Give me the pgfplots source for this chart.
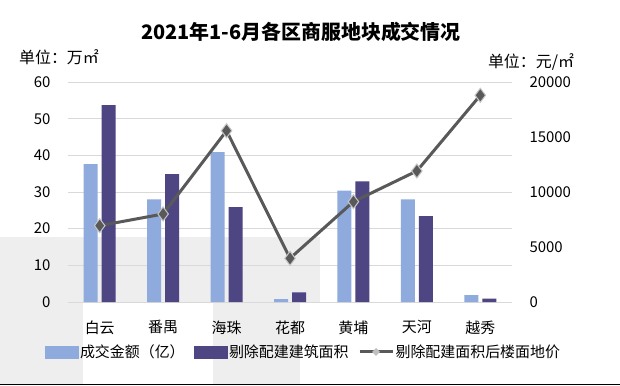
\documentclass[border=0pt]{standalone}
\usepackage{fontspec}
\setmainfont{Noto Sans CJK SC}
\usepackage{pgfplots}
\pgfplotsset{compat=1.18}
\definecolor{lb}{HTML}{8FAADC}
\definecolor{db}{HTML}{4E4583}
\definecolor{ln}{HTML}{595959}
\definecolor{gr}{HTML}{D9D9D9}
\definecolor{bg}{HTML}{EEEEEE}
\begin{document}
\begin{tikzpicture}[x=1bp,y=1bp]
\path[use as bounding box, fill=white] (0,0) rectangle (620,385);
% faint background blocks
\fill[bg] (0,83) rectangle (320,148);
\fill[bg] (0,0) rectangle (83,83);
\fill[bg] (213,0) rectangle (300,83);
\draw[black, line width=1.5bp] (0,0.75) -- (620,0.75);
\begin{axis}[
  at={(68bp,83bp)}, anchor=south west,
  scale only axis, width=444bp, height=220bp,
  xmin=-0.5, xmax=6.5, ymin=0, ymax=60,
  ytick={0,10,...,60},
  xtick={0,...,6}, xticklabels={白云,番禺,海珠,花都,黄埔,天河,越秀},
  axis line style={draw=none}, major tick length=0pt,
  ymajorgrids, grid style={gr, line width=1bp},
  ybar, bar width=14bp,
  ticklabel style={font=\fontsize{15}{18}\selectfont},
  /pgf/number format/assume math mode=true,
  yticklabel style={anchor=east, xshift=-14bp},
  xticklabel style={yshift=-15bp},
]
\addplot[fill=lb, draw=none, bar shift=-9bp] coordinates {(0,37.6) (1,28.0) (2,40.9) (3,0.8) (4,30.4) (5,28.0) (6,1.9)};
\addplot[fill=db, draw=none, bar shift=9bp] coordinates {(0,53.7) (1,34.9) (2,25.9) (3,2.6) (4,32.9) (5,23.4) (6,0.9)};
\end{axis}
\begin{axis}[
  at={(68bp,83bp)}, anchor=south west,
  scale only axis, width=444bp, height=220bp,
  xmin=-0.5, xmax=6.5, ymin=0, ymax=20000,
  axis y line*=right, axis x line=none,
  axis line style={draw=none}, major tick length=0pt,
  ytick={0,5000,...,20000}, scaled y ticks=false,
  ticklabel style={font=\fontsize{15}{18}\selectfont},
  /pgf/number format/assume math mode=true,
  yticklabel style={/pgf/number format/1000 sep={}, anchor=west, xshift=14bp},
  legend columns=3,
  legend style={at={(0.53,-0.227)}, anchor=center, draw=none, fill=none,
    font=\fontsize{15}{18}\selectfont, nodes={inner sep=1.5bp},
    /tikz/every even column/.append style={column sep=8bp}},
]
\addlegendimage{legend image code/.code={\fill[lb] (0bp,-6bp) rectangle (33bp,6bp);}}
\addlegendentry{成交金额（亿）}
\addlegendimage{legend image code/.code={\fill[db] (0bp,-6bp) rectangle (33bp,6bp);}}
\addlegendentry{剔除配建建筑面积}
\addplot[ln, line width=3bp, mark=diamond*, mark size=7bp,
  mark options={fill=ln, draw=gray!45, line width=1bp},
  legend image code/.code={\draw[ln, line width=3bp] (0bp,0bp) -- (33bp,0bp);
    \fill[gray!50] (16.5bp,0bp) circle (1.8bp);}]
  coordinates {(0,6940) (1,8000) (2,15570) (3,3970) (4,9120) (5,11910) (6,18790)};
\addlegendentry{剔除配建面积后楼面地价}
\end{axis}
\node[font=\bfseries\fontsize{20}{24}\selectfont] at (301,353) {2021年1-6月各区商服地块成交情况};
\node[font=\fontsize{16}{19}\selectfont] at (59,328) {单位：万㎡};
\node[font=\fontsize{16}{19}\selectfont] at (531,323) {单位：元/㎡};
\end{tikzpicture}
\end{document}
